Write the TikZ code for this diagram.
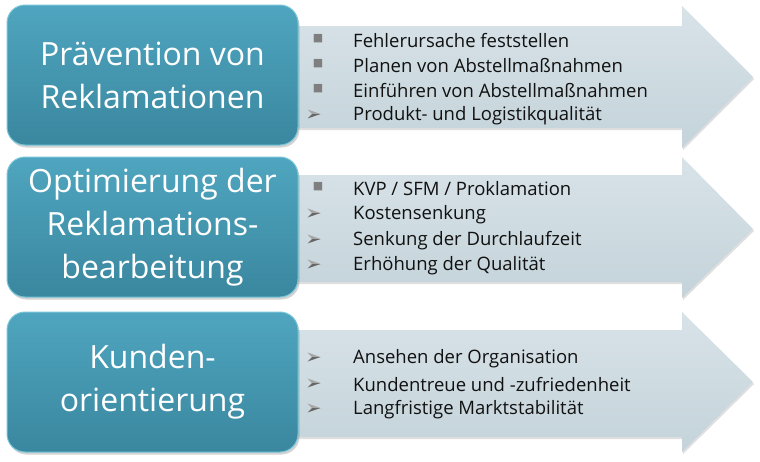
\documentclass[tikz,border=0pt]{standalone}
\usepackage{fontspec}
\setmainfont{Open Sans}
\newfontfamily\symfont{DejaVu Sans}
\usetikzlibrary{shadows,positioning}
\definecolor{boxtop}{HTML}{4FA5BF}
\definecolor{boxbot}{HTML}{3A879F}
\definecolor{boxedge}{HTML}{78C6DA}
\definecolor{arrtop}{HTML}{D8E3E8}
\definecolor{arrbot}{HTML}{C4D3DA}
\definecolor{bulgray}{HTML}{7F7F7F}
\definecolor{bullight}{HTML}{A6A6A6}
\definecolor{buldark}{HTML}{666666}
\definecolor{txt}{HTML}{111111}
\tikzset{
  bigbox/.style={rounded corners=18pt, minimum width=291pt, minimum height=140pt,
    top color=boxtop, bottom color=boxbot, draw=boxedge, line width=1pt,
    text=white, font=\fontsize{32}{43}\selectfont, align=center, inner sep=0pt,
    drop shadow={shadow xshift=1.5pt, shadow yshift=-2.5pt, opacity=0.35}},
  arrowshape/.style={top color=arrtop, bottom color=arrbot, draw=none,
    drop shadow={shadow xshift=1pt, shadow yshift=-2pt, opacity=0.25}},
  item/.style={anchor=west, text=txt, font=\fontsize{18.5}{20}\selectfont, inner sep=0pt},
  sqbul/.style={anchor=center, text=bulgray, font=\symfont\fontsize{11}{12}\selectfont, inner sep=0pt},
  arrbullet/.pic={
    \fill[bullight] (-6.5,-4.5) -- (6.5,0) -- (-2,0) -- cycle;
    \fill[buldark] (-6.5,4.5) -- (6.5,0) -- (-2,0) -- cycle;
  }
}
\begin{document}
\begin{tikzpicture}[x=1pt,y=-1pt]
\useasboundingbox (0,0) rectangle (760,461);
% arrows
\path[arrowshape] (290,26) -- (682,26) -- (682,6) -- (753,77) -- (682,148) -- (682,128) -- (290,128) -- cycle;
\path[arrowshape] (290,175) -- (682,175) -- (682,157) -- (753,229) -- (682,298) -- (682,282) -- (290,282) -- cycle;
\path[arrowshape] (290,330) -- (682,330) -- (682,312) -- (753,382) -- (682,452) -- (682,437) -- (290,437) -- cycle;
% boxes
\node[bigbox] (b1) at (152.5,75) {Prävention von\\Reklamationen};
\node[bigbox] (b2) at (152.5,227) {Optimierung der\\Reklamations-\\bearbeitung};
\node[bigbox] (b3) at (152.5,382) {Kunden-\\orientierung};
% row 1 items
\node[sqbul] (s11) at (318,39) {■};
\node[item] (t11) at (353,41) {Fehlerursache feststellen};
\node[sqbul] (s12) at (318,64) {■};
\node[item] (t12) at (353,66) {Planen von Abstellmaßnahmen};
\node[sqbul] (s13) at (318,89) {■};
\node[item] (t13) at (353,91) {Einführen von Abstellmaßnahmen};
\pic at (314,114) {arrbullet};
\node[item] (t14) at (353,116) {Produkt- und Logistikqualität};
% row 2 items
\node[sqbul] (s21) at (318,187) {■};
\node[item] (t21) at (353,189) {KVP / SFM / Proklamation};
\pic at (314,213) {arrbullet};
\node[item] (t22) at (353,215) {Kostensenkung};
\pic at (314,239) {arrbullet};
\node[item] (t23) at (353,241) {Senkung der Durchlaufzeit};
\pic at (314,264) {arrbullet};
\node[item] (t24) at (353,266) {Erhöhung der Qualität};
% row 3 items
\pic at (314,357) {arrbullet};
\node[item] (t31) at (353,359) {Ansehen der Organisation};
\pic at (314,383) {arrbullet};
\node[item] (t32) at (353,385) {Kundentreue und -zufriedenheit};
\pic at (314,408) {arrbullet};
\node[item] (t33) at (353,410) {Langfristige Marktstabilität};
\end{tikzpicture}
\end{document}
